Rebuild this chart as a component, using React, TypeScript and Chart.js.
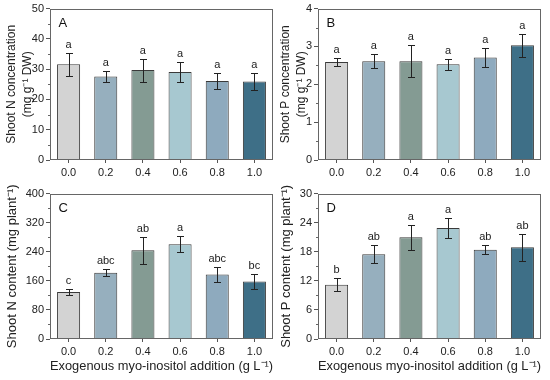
import React, { useEffect, useRef } from 'react';
import { Chart, registerables } from 'chart.js';
Chart.register(...registerables);

const categories = ['0.0', '0.2', '0.4', '0.6', '0.8', '1.0'];
const barColors = ['#d3d3d3', '#96afbe', '#849b93', '#a7c8d0', '#8eaabe', '#3e6f87'];

const shootNConc = [31.6, 27.6, 29.7, 29.1, 26.1, 25.9];
const shootNConcErr = [3.7, 1.7, 3.8, 3.2, 2.75, 2.8];
const shootNConcLetters = ['a', 'a', 'a', 'a', 'a', 'a'];

const shootPConc = [2.59, 2.61, 2.61, 2.53, 2.71, 3.03];
const shootPConcErr = [0.1, 0.19, 0.42, 0.14, 0.24, 0.31];
const shootPConcLetters = ['a', 'a', 'a', 'a', 'a', 'a'];

const shootNContent = [129.5, 182, 244, 261, 177.5, 158];
const shootNContentErr = [9, 9.5, 37, 21.5, 20.5, 21];
const shootNContentLetters = ['c', 'abc', 'ab', 'a', 'abc', 'bc'];

const shootPContent = [11.2, 17.5, 21.0, 22.9, 18.4, 18.95];
const shootPContentErr = [1.3, 1.9, 2.55, 2.05, 0.9, 2.8];
const shootPContentLetters = ['b', 'ab', 'a', 'a', 'ab', 'ab'];

const xTitleText = 'Exogenous myo-inositol addition (g L\u207B\u00B9)';
const FONT = "'Liberation Sans', Arial, sans-serif";

type PanelProps = {
  x: number; y: number; w: number; h: number;
  padTop: number; padRight: number; yWidth: number; xHeight: number;
  values: number[]; errs: number[]; letters: string[]; label: string;
  max: number; step: number; yTitle: string | string[]; yTitleSize: number; yTitleOffset: number;
  xTitle?: string;
};

function Panel(p: PanelProps) {
  const ref = useRef<HTMLCanvasElement | null>(null);
  useEffect(() => {
    if (!ref.current) return;
    const overlay = {
      id: 'overlay',
      afterDatasetsDraw(chart: any) {
        const ctx = chart.ctx;
        const ca = chart.chartArea;
        const ys = chart.scales.y;
        const meta = chart.getDatasetMeta(0);
        ctx.save();
        ctx.strokeStyle = '#222';
        ctx.lineWidth = 1;
        ctx.fillStyle = '#222';
        ctx.font = `11px ${FONT}`;
        ctx.textAlign = 'center';
        ctx.textBaseline = 'bottom';
        meta.data.forEach((bar: any, i: number) => {
          const xc = Math.round(bar.x) + 0.5;
          const top = Math.round(ys.getPixelForValue(p.values[i] + p.errs[i])) + 0.5;
          const bot = Math.round(ys.getPixelForValue(p.values[i] - p.errs[i])) + 0.5;
          ctx.beginPath();
          ctx.moveTo(xc, top); ctx.lineTo(xc, bot);
          ctx.moveTo(xc - 3.5, top); ctx.lineTo(xc + 3.5, top);
          ctx.moveTo(xc - 3.5, bot); ctx.lineTo(xc + 3.5, bot);
          ctx.stroke();
          ctx.fillText(p.letters[i], bar.x, top - 3);
        });
        // frame
        ctx.strokeStyle = '#666';
        const l = Math.round(ca.left) + 0.5, t = Math.round(ca.top) + 0.5;
        const r = Math.round(ca.right) - 0.5, b = Math.round(ca.bottom) - 0.5;
        ctx.strokeRect(l, t, r - l, b - t);
        // minor ticks
        ctx.beginPath();
        for (let v = p.step / 2; v < p.max; v += p.step) {
          const py = Math.round(ys.getPixelForValue(v)) + 0.5;
          ctx.moveTo(l - 2.5, py); ctx.lineTo(l, py);
        }
        ctx.stroke();
        // panel label
        ctx.fillStyle = '#111';
        ctx.font = `13px ${FONT}`;
        ctx.textAlign = 'left';
        ctx.textBaseline = 'alphabetic';
        ctx.fillText(p.label, l + 8, t + 17);
        ctx.restore();
      },
    };
    const chart = new Chart(ref.current, {
      type: 'bar',
      data: {
        labels: categories,
        datasets: [{
          data: p.values,
          backgroundColor: barColors,
          borderColor: '#3a3a3a',
          borderWidth: 1,
          categoryPercentage: 1,
          barPercentage: 0.62,
        }],
      },
      options: {
        animation: false,
        responsive: false,
        layout: { padding: { top: p.padTop, right: p.padRight, left: 0, bottom: 0 } },
        plugins: { legend: { display: false }, tooltip: { enabled: false } },
        scales: {
          x: {
            grid: { display: true, drawOnChartArea: false, drawTicks: true, tickLength: 3, offset: false, color: '#555' },
            border: { display: false },
            ticks: { color: '#222', font: { size: 11, family: FONT }, padding: 3, maxRotation: 0 },
            title: p.xTitle ? { display: true, text: p.xTitle, color: '#222', font: { size: 13, family: FONT }, padding: { top: 4, bottom: 6 } } : { display: false },
            afterFit: (s: any) => { s.height = p.xHeight; },
          },
          y: {
            min: 0, max: p.max,
            grid: { display: true, drawOnChartArea: false, drawTicks: true, tickLength: 4, color: '#555' },
            border: { display: false },
            ticks: { stepSize: p.step, color: '#222', font: { size: 11, family: FONT }, padding: 2 },
            title: { display: true, text: p.yTitle, color: '#222', font: { size: p.yTitleSize, family: FONT, lineHeight: 1.3 }, padding: { top: p.yTitleOffset, bottom: 0 } },
            afterFit: (s: any) => { s.width = p.yWidth; },
          },
        },
      },
      plugins: [overlay],
    } as any);
    return () => chart.destroy();
  }, []);
  return (
    <canvas ref={ref} width={p.w} height={p.h}
      style={{ position: 'absolute', left: p.x, top: p.y, width: p.w, height: p.h }} />
  );
}

export default function App() {
  return (
    <div style={{ position: 'absolute', left: 0, top: 0, width: 550, height: 380, background: '#fff', overflow: 'hidden' }}>
      <Panel x={0} y={0} w={275} h={190} padTop={7} padRight={2} yWidth={50} xHeight={30}
        values={shootNConc} errs={shootNConcErr} letters={shootNConcLetters} label="A"
        max={50} step={10} yTitle={['Shoot N concentration', '(mg g\u207B\u00B9 DW)']} yTitleSize={12} yTitleOffset={4} />
      <Panel x={275} y={0} w={275} h={190} padTop={7} padRight={9} yWidth={43} xHeight={30}
        values={shootPConc} errs={shootPConcErr} letters={shootPConcLetters} label="B"
        max={4} step={1} yTitle={['Shoot P concentration', '(mg g\u207B\u00B9 DW)']} yTitleSize={12} yTitleOffset={3} />
      <Panel x={0} y={185} w={275} h={195} padTop={2} padRight={2} yWidth={50} xHeight={41}
        values={shootNContent} errs={shootNContentErr} letters={shootNContentLetters} label="C"
        max={400} step={80} yTitle={'Shoot N content (mg plant\u207B\u00B9)'} yTitleSize={13} yTitleOffset={4} xTitle={xTitleText} />
      <Panel x={275} y={185} w={275} h={195} padTop={2} padRight={9} yWidth={43} xHeight={41}
        values={shootPContent} errs={shootPContentErr} letters={shootPContentLetters} label="D"
        max={30} step={6} yTitle={'Shoot P content (mg plant\u207B\u00B9)'} yTitleSize={13} yTitleOffset={3} xTitle={xTitleText} />
    </div>
  );
}
